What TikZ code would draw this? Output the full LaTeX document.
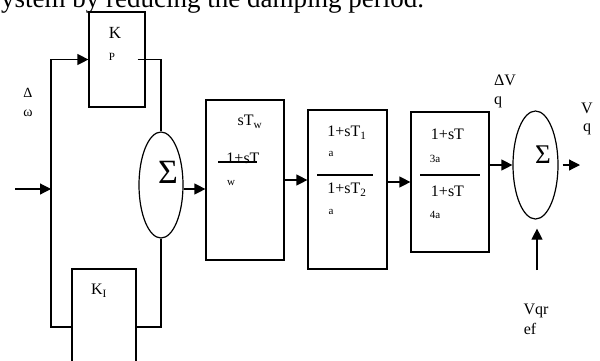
\documentclass[tikz,border=0pt]{standalone}
\usepackage{fontspec}
\setmainfont{Liberation Serif}
\usetikzlibrary{shapes.geometric, arrows.meta, positioning, calc}

\begin{document}
\begin{tikzpicture}[x=1pt, y=-1pt, line width=1.2pt,
    block/.style={rectangle, draw, inner sep=0pt},
    summer/.style={ellipse, draw, inner sep=0pt},
    lbl/.style={inner sep=0pt, font=\fontsize{16}{18}\selectfont},
    small/.style={inner sep=0pt, font=\fontsize{11}{12}\selectfont},
    sig/.style={inner sep=0pt, font=\fontsize{34}{36}\selectfont},
    flow/.style={-{Triangle[length=11pt, width=11pt]}}]

    \useasboundingbox (0,0) rectangle (600,360);
    \clip (0,0) rectangle (600,360);

    % text line cut by the top edge
    \node[inner sep=0pt, anchor=base west, font=\fontsize{27}{30}\selectfont] (caption) at (-10,7) {system by reducing the damping period.};

    % blocks
    \node[block, minimum width=56pt, minimum height=95pt] (kp) at (117,59.5) {};
    \node[block, minimum width=64pt, minimum height=116pt] (ki) at (104,327) {};
    \node[summer, minimum width=44pt, minimum height=106pt] (sum1) at (161,185) {};
    \node[block, minimum width=78pt, minimum height=160pt] (washout) at (245,180) {};
    \node[block, minimum width=79pt, minimum height=159pt] (lead) at (347.5,189.5) {};
    \node[block, minimum width=78pt, minimum height=140pt] (lag) at (450,182) {};
    \node[summer, minimum width=45pt, minimum height=108pt] (sum2) at (535.5,165) {};

    \coordinate (in) at (15,189);
    \coordinate (split) at (51,189);
    \coordinate (out) at (580,165);
    \coordinate (vref) at (537,270);

    % texts in the blocks
    \node[lbl, font=\fontsize{17}{19}\selectfont] (kpk) at (115,33) {K};
    \node[small] (kpp) at (112,57) {P};
    \node[lbl] (kil) at (99,291) {K\textsubscript{I}};
    \node[sig] (sig1) at (168,172) {Σ};
    \node[sig, font=\fontsize{27}{30}\selectfont] (sig2) at (543,155) {Σ};

    \node[lbl] (twnum) at (250,122) {sT\textsubscript{w}};
    \node[lbl] (twden) at (243,158) {1+sT};
    \node[small] (twsub) at (231,183) {w};
    \draw (218,162) -- (257,162);

    \node[lbl] (leadnum) at (347,133) {1+sT\textsubscript{1}};
    \node[small] (leadsa) at (331,154) {a};
    \draw (317,175) -- (373,175);
    \node[lbl] (leadden) at (347,190) {1+sT\textsubscript{2}};
    \node[small] (leadsb) at (331,212) {a};

    \node[lbl] (lagnum) at (447.5,134) {1+sT};
    \node[small] (lagsa) at (435,159) {3a};
    \draw (420,175) -- (480,175);
    \node[lbl] (lagden) at (447.5,191) {1+sT};
    \node[small] (lagsb) at (435,215) {4a};

    % signal labels
    \node[lbl, font=\fontsize{14}{16}\selectfont] (dw1) at (28,93) {Δ};
    \node[lbl, font=\fontsize{14}{16}\selectfont] (dw2) at (28,113) {ω};
    \node[lbl] (dvq1) at (505,80) {ΔV};
    \node[lbl] (dvq2) at (498,102) {q};
    \node[lbl] (vq1) at (587,108) {V};
    \node[lbl] (vq2) at (587,129) {q};
    \node[lbl] (vref1) at (536,311) {Vqr};
    \node[lbl] (vref2) at (530,329) {ef};

    % connections
    \draw[flow] (in) -- (split);
    \draw[flow] (split) |- (kp.west);
    \draw (split) |- (ki.west);
    \draw ($(kp.east)+(-8,0)$) -| (sum1.north);
    \draw (ki.east) -| (sum1.south);
    \draw[flow] (sum1.east |- split) -- (washout.west |- split);
    \draw[flow] (washout.east) -- (washout.east -| lead.west);
    \draw[flow] (lead.east |- lag.west) -- (lag.west);
    \draw[flow] (lag.east |- sum2.west) -- (sum2.west);
    \draw[flow] ($(sum2.east)+(4,0)$) -- (out);
    \draw[flow, shorten >=9pt] (vref) -- (vref |- sum2.south);
\end{tikzpicture}
\end{document}
